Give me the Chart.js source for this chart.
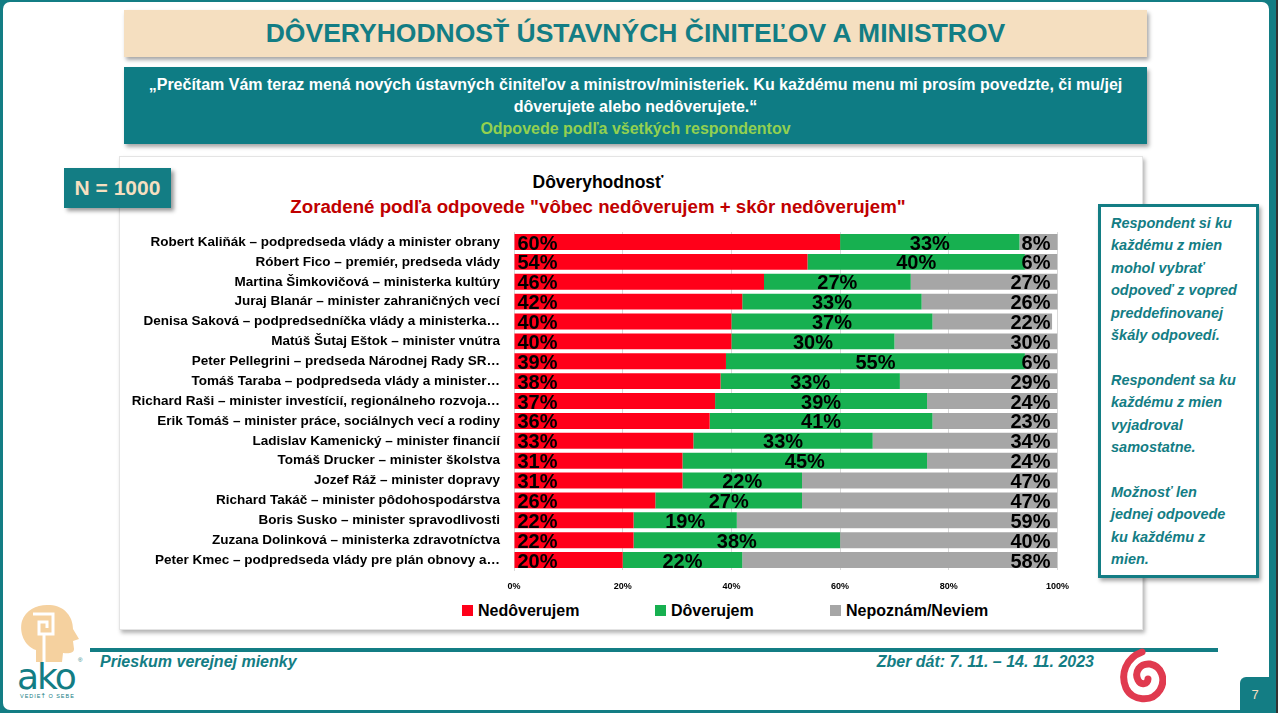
<!DOCTYPE html>
<html lang="sk">

<head>
    <meta charset="UTF-8">
    <title>Dôveryhodnosť ústavných činiteľov a ministrov</title>
    <script src="https://cdn.jsdelivr.net/npm/chart.js"></script>
    <style>
        body { margin: 0; width: 1278px; height: 713px; overflow: hidden; background: #333; font-family: "Liberation Sans", Arial, sans-serif; }
        .frame { position: absolute; left: 0; top: 0; width: 1276px; height: 713px; background: #137d84; }
        .slide { position: absolute; left: 3px; top: 2px; width: 1266px; height: 708px; background: #fff; border-radius: 7px; }
        .abs { position: absolute; }
        .title { left: 124px; top: 10px; width: 1023px; height: 47px; background: #f5dfc0; box-shadow: 2px 3px 4px rgba(0,0,0,.35);
                 color: #137d84; font-weight: bold; font-size: 26.5px; line-height: 47px; text-align: center; }
        .question { left: 124px; top: 67px; width: 1023px; height: 77px; background: #0e7c84; box-shadow: 2px 3px 4px rgba(0,0,0,.35);
                    color: #fff; font-weight: bold; font-size: 16px; line-height: 22px; text-align: center; padding-top: 7px; box-sizing: border-box; }
        .question .green { color: #92d050; }
        .chartbox { left: 119px; top: 156px; width: 1022px; height: 472px; background: #fff; border: 1px solid #e4e4e4; box-shadow: 2px 3px 4px rgba(0,0,0,.3); }
        .nbox { left: 64px; top: 168px; width: 107px; height: 40px; background: #137d84; color: #f5dfc0; font-weight: bold; font-size: 21px;
                line-height: 40px; text-align: center; box-shadow: 3px 3px 4px rgba(0,0,0,.4); }
        .ctitle { left: 400px; top: 172px; width: 396px; text-align: center; font-weight: bold; font-size: 17.5px; color: #000; }
        .csub { left: 200px; top: 196px; width: 796px; text-align: center; font-weight: bold; font-size: 18.7px; color: #c00000; }
        .note { left: 1098px; top: 204px; width: 161px; height: 374px; border: 3px solid #137d84; background: #fff; box-sizing: border-box;
                box-shadow: 2px 3px 4px rgba(0,0,0,.35); color: #137d84; font-weight: bold; font-style: italic; font-size: 14.5px; line-height: 22.4px; padding: 5px 0 0 10px; }
        .note p { margin: 0 0 22.4px 0; }
        .legend { top: 602px; font-weight: bold; font-size: 16px; color: #000; }
        .legend span.box { display: inline-block; width: 11px; height: 11px; margin-right: 5px; }
        .footline { left: 90px; top: 648px; width: 1128px; height: 4px; background: #137d84; }
        .foot { top: 653px; color: #137d84; font-weight: bold; font-style: italic; font-size: 16px; }
        .pagenum { left: 1240px; top: 677px; width: 30px; height: 36px; background: #137d84; border-top-left-radius: 6px; color: #f5dfc0; font-size: 13px; text-align: center; line-height: 36px; }
    </style>
</head>

<body>
    <div class="frame"></div>
    <div class="slide"></div>
    <div class="abs title">DÔVERYHODNOSŤ ÚSTAVNÝCH ČINITEĽOV A MINISTROV</div>
    <div class="abs question">„Prečítam Vám teraz mená nových ústavných činiteľov a ministrov/ministeriek. Ku každému menu mi prosím povedzte, či mu/jej<br>dôverujete alebo nedôverujete.“<br><span class="green">Odpovede podľa všetkých respondentov</span></div>
    <div class="abs chartbox"></div>
    <div class="abs nbox">N = 1000</div>
    <div class="abs ctitle">Dôveryhodnosť</div>
    <div class="abs csub">Zoradené podľa odpovede "vôbec nedôverujem + skôr nedôverujem"</div>

    <div class="abs" style="left:130px; top:218px; width:950px; height:375px;">
        <canvas id="myChart"></canvas>
    </div>

    <div class="abs legend" style="left:462px;"><span class="box" style="background:#ff0019"></span>Nedôverujem</div>
    <div class="abs legend" style="left:655px;"><span class="box" style="background:#17b050"></span>Dôverujem</div>
    <div class="abs legend" style="left:830px;"><span class="box" style="background:#a6a6a6"></span>Nepoznám/Neviem</div>

    <div class="abs note">
        <p>Respondent si ku<br>každému z mien<br>mohol vybrať<br>odpoveď z vopred<br>preddefinovanej<br>škály odpovedí.</p>
        <p>Respondent sa ku<br>každému z mien<br>vyjadroval<br>samostatne.</p>
        <p>Možnosť len<br>jednej odpovede<br>ku každému z<br>mien.</p>
    </div>

    <div class="abs footline"></div>
    <div class="abs foot" style="left:100px;">Prieskum verejnej mienky</div>
    <div class="abs foot" style="right:184px;">Zber dát: 7. 11. – 14. 11. 2023</div>

    <!-- ako logo -->
    <svg class="abs" style="left:12px; top:600px;" width="80" height="105" viewBox="0 0 80 105">
        <path d="M24 62 L24 50 C12 46 7 32 10 21 C14 9 26 4 38 5 C53 6 61 17 61 29 L67 39 L61 41 L62 49 C62 53 57 54 51 53 L50 62 Z" fill="#f5d19f"/>
        <path d="M21 14 h20 v20 h-14 v-12 h8 v6" fill="none" stroke="#fff" stroke-width="3"/>
        <path d="M32 34 v28" stroke="#fff" stroke-width="3"/>
        <text x="5" y="89" font-family="DejaVu Sans, sans-serif" font-size="36" fill="#137d84" letter-spacing="-2">ako</text>
        <text x="66" y="62" font-size="6" fill="#137d84">®</text>
        <text x="8" y="98" font-size="5.5" fill="#137d84" letter-spacing="1">VEDIEŤ O SEBE</text>
    </svg>

    <!-- spiral logo -->
    <svg class="abs" style="left:1118px; top:648px;" width="48" height="56" viewBox="0 0 48 56">
        <path d="M24 4 C8 10 2 26 8 40 C14 53 34 55 42 42 C48 32 44 18 32 16 C22 15 16 24 20 32 C23 38 30 36 30 31"
              fill="none" stroke="#e03a4f" stroke-width="7" stroke-linecap="round"/>
    </svg>

    <div class="abs pagenum">7</div>

    <script>
        const categories = [
            'Robert Kaliňák – podpredseda vlády a minister obrany',
            'Róbert Fico – premiér, predseda vlády',
            'Martina Šimkovičová – ministerka kultúry',
            'Juraj Blanár – minister zahraničných vecí',
            'Denisa Saková – podpredsedníčka vlády a ministerka…',
            'Matúš Šutaj Eštok – minister vnútra',
            'Peter Pellegrini – predseda Národnej Rady SR…',
            'Tomáš Taraba – podpredseda vlády a minister…',
            'Richard Raši – minister investícií, regionálneho rozvoja…',
            'Erik Tomáš – minister práce, sociálnych vecí a rodiny',
            'Ladislav Kamenický – minister financií',
            'Tomáš Drucker – minister školstva',
            'Jozef Ráž – minister dopravy',
            'Richard Takáč – minister pôdohospodárstva',
            'Boris Susko – minister spravodlivosti',
            'Zuzana Dolinková – ministerka zdravotníctva',
            'Peter Kmec – podpredseda vlády pre plán obnovy a…'
        ];
        const nedoverujem = [60, 54, 46, 42, 40, 40, 39, 38, 37, 36, 33, 31, 31, 26, 22, 22, 20];
        const doverujem = [33, 40, 27, 33, 37, 30, 55, 33, 39, 41, 33, 45, 22, 27, 19, 38, 22];
        const nepoznam = [8, 6, 27, 26, 22, 30, 6, 29, 24, 23, 34, 24, 47, 47, 59, 40, 58];
        const xTicks = ['0%', '20%', '40%', '60%', '80%', '100%'];

        // value labels: red at the start, green in the middle, grey at the end
        const valueLabels = {
            id: 'valueLabels',
            afterDatasetsDraw(chart) {
                const ctx = chart.ctx;
                ctx.save();
                ctx.font = 'bold 20px "Liberation Sans", Arial, sans-serif';
                ctx.fillStyle = '#000';
                ctx.textBaseline = 'middle';
                chart.data.datasets.forEach((ds, i) => {
                    const meta = chart.getDatasetMeta(i);
                    meta.data.forEach((bar, j) => {
                        const txt = ds.data[j] + '%';
                        const y = bar.y + 2;
                        if (i === 0) {
                            ctx.textAlign = 'left';
                            ctx.fillText(txt, bar.base + 3, y);
                        } else if (i === 1) {
                            ctx.textAlign = 'center';
                            ctx.fillText(txt, (bar.base + bar.x) / 2, y);
                        } else {
                            ctx.textAlign = 'right';
                            ctx.fillText(txt, chart.chartArea.right - 7, y);
                        }
                    });
                });
                ctx.restore();
            }
        };

        new Chart(document.getElementById('myChart'), {
            type: 'bar',
            data: {
                labels: categories,
                datasets: [
                    { label: 'Nedôverujem', data: nedoverujem, backgroundColor: '#ff0019' },
                    { label: 'Dôverujem', data: doverujem, backgroundColor: '#17b050' },
                    { label: 'Nepoznám/Neviem', data: nepoznam, backgroundColor: '#a6a6a6' }
                ]
            },
            options: {
                indexAxis: 'y',
                responsive: true,
                maintainAspectRatio: false,
                animation: false,
                layout: { padding: { top: 4, right: 13, left: 0, bottom: 0 } },
                datasets: { bar: { barPercentage: 0.8, categoryPercentage: 1.0 } },
                plugins: { legend: { display: false }, tooltip: { enabled: false } },
                scales: {
                    x: {
                        stacked: true, min: 0, max: 100,
                        ticks: {
                            stepSize: 20, padding: 11, color: '#000',
                            font: { family: '"Liberation Sans", Arial, sans-serif', size: 9, weight: 'bold' },
                            callback: (v, i) => xTicks[i]
                        },
                        grid: { color: '#d9d9d9', drawTicks: false },
                        border: { display: false },
                        afterFit: (s) => { s.height = 23; }
                    },
                    y: {
                        stacked: true,
                        ticks: {
                            color: '#000', padding: 6, autoSkip: false,
                            font: { family: '"Liberation Sans", Arial, sans-serif', size: 13.5, weight: 'bold' }
                        },
                        grid: { display: false },
                        border: { color: '#d9d9d9' },
                        afterFit: (s) => { s.width = 384; }
                    }
                }
            },
            plugins: [valueLabels]
        });
    </script>
</body>

</html>
